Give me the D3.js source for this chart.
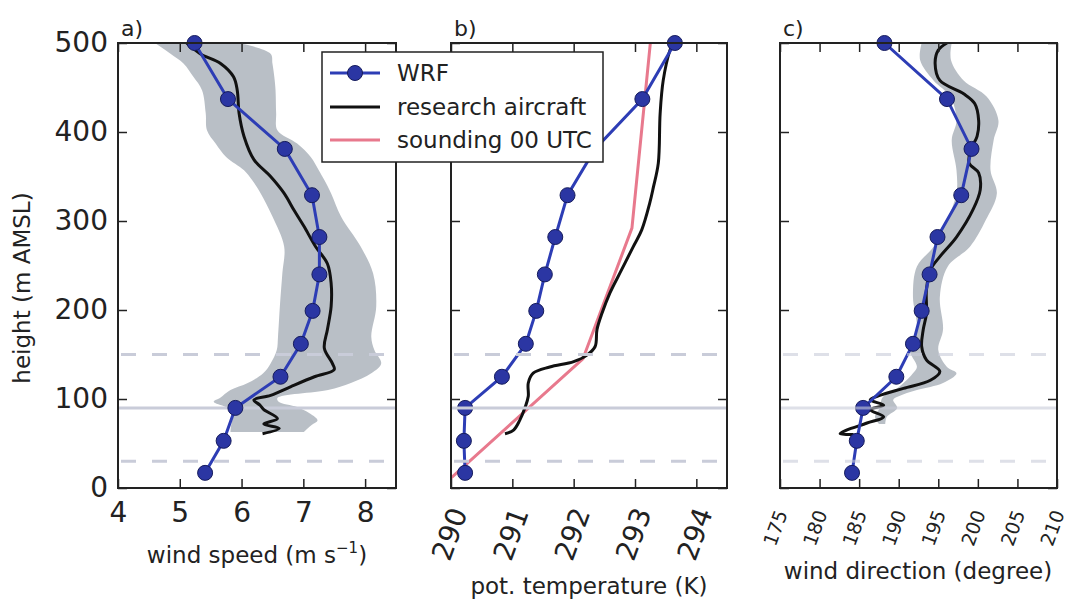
<!DOCTYPE html>
<html>
<head>
<meta charset="utf-8">
<script src="https://cdn.jsdelivr.net/npm/d3@7"></script>
<style>
  body { margin: 0; background: #fff; }
  text { font-family: "DejaVu Sans", sans-serif; fill: #222; }
</style>
</head>
<body>
<div id="chart"></div>
<script>
// WRF model levels (m AMSL) and values
var wrfHeight = [500, 437, 381, 329, 282, 240, 199, 162, 125, 90, 53, 17];
var wrfSpeed = [5.24, 5.78, 6.70, 7.14, 7.26, 7.26, 7.15, 6.96, 6.63, 5.90, 5.71, 5.41];
var wrfTheta = [293.65, 293.12, 292.35, 291.90, 291.70, 291.53, 291.39, 291.22, 290.83, 290.23, 290.21, 290.23];
var wrfDir = [188.2, 196.1, 199.2, 197.9, 194.9, 193.9, 192.9, 191.8, 189.7, 185.5, 184.7, 184.1];

// research aircraft, wind speed
var acSpeedHeight = [500, 488, 477, 462, 447, 421, 395, 369, 350, 331, 312, 294, 271, 252, 230, 204, 178, 157, 140, 133, 125, 114, 104, 99, 93, 88, 78, 72, 67, 61];
var acSpeed = [5.11, 5.33, 5.66, 5.87, 5.93, 5.96, 6.04, 6.20, 6.47, 6.69, 6.85, 7.01, 7.20, 7.39, 7.45, 7.45, 7.39, 7.34, 7.47, 7.50, 7.18, 6.80, 6.47, 6.20, 6.30, 6.36, 6.58, 6.36, 6.61, 6.34];

// research aircraft spread, wind speed
var bandSpeedHeight = [500, 488, 477, 462, 447, 421, 402, 387, 372, 357, 346, 331, 305, 271, 241, 204, 170, 155, 140, 129, 118, 110, 101, 97, 91, 84, 76, 70, 63];
var bandSpeedLow = [4.60, 4.85, 5.06, 5.22, 5.36, 5.42, 5.44, 5.58, 5.75, 6.04, 6.17, 6.31, 6.50, 6.69, 6.66, 6.62, 6.59, 6.57, 6.47, 6.35, 6.10, 5.82, 5.65, 5.55, 5.74, 5.87, 5.85, 5.83, 5.82];
var bandSpeedHigh = [5.96, 6.47, 6.50, 6.53, 6.55, 6.56, 6.58, 6.90, 7.12, 7.25, 7.34, 7.45, 7.61, 7.93, 8.13, 8.18, 8.10, 8.15, 8.26, 8.10, 7.77, 7.40, 6.58, 6.60, 6.90, 7.10, 7.23, 7.12, 7.01];

// research aircraft, potential temperature
var acThetaHeight = [500, 492, 458, 421, 365, 338, 320, 290, 271, 245, 219, 196, 178, 159, 149, 142, 136, 129, 118, 103, 91, 76, 65, 61];
var acTheta = [293.62, 293.57, 293.46, 293.41, 293.38, 293.30, 293.24, 293.11, 292.97, 292.78, 292.59, 292.46, 292.38, 292.35, 292.21, 292.00, 291.61, 291.34, 291.26, 291.26, 291.21, 291.12, 291.02, 290.88];

// sounding 00 UTC
var sondeHeight = [10, 145, 292, 500];
var sondeTheta = [289.98, 292.15, 292.95, 293.25];

// research aircraft, wind direction
var acDirHeight = [500, 492, 477, 458, 443, 432, 413, 395, 380, 365, 354, 335, 313, 282, 260, 245, 222, 196, 178, 159, 144, 131, 121, 112, 104, 99, 93, 88, 80, 73, 65, 61, 60];
var acDir = [196.1, 195.0, 194.6, 195.2, 198.2, 199.6, 200.1, 199.9, 199.1, 198.9, 200.1, 200.3, 199.4, 197.3, 195.2, 194.0, 193.5, 193.5, 193.1, 192.9, 193.5, 195.2, 194.0, 190.6, 187.6, 186.4, 188.1, 186.4, 188.1, 186.0, 183.4, 182.6, 184.3];

var bandDirHeight = [500, 481, 458, 440, 413, 391, 357, 331, 301, 271, 249, 215, 178, 155, 136, 129, 118, 110, 103, 99, 90, 80, 72];
var bandDirLow = [192.9, 192.7, 194.4, 196.5, 197.3, 196.7, 197.3, 197.3, 196.1, 194.4, 192.3, 191.8, 192.3, 191.4, 192.3, 191.8, 190.6, 189.5, 188.1, 187.8, 187.6, 187.0, 187.5];
var bandDirHigh = [196.7, 196.6, 198.2, 201.1, 202.6, 202.0, 201.6, 202.4, 201.0, 199.0, 196.2, 195.2, 195.6, 195.0, 196.1, 197.3, 195.6, 192.3, 190.0, 189.3, 189.8, 188.5, 188.3];

// reference heights
var solidHeight = 90;
var dashedHeights = [30, 150];

var svgWidth = 1067;
var svgHeight = 601;

var blue = "#2d3db5";
var pink = "#e8798d";
var shade = "#b9bfc6";

var svg = d3.select("#chart")
  .append("svg")
  .attr("width", svgWidth)
  .attr("height", svgHeight);

var yScale = d3.scaleLinear().domain([0, 500]).range([488, 43]);

// one panel: scales, band, lines, markers, frame, ticks
function drawPanel(opt) {
  var x = d3.scaleLinear().domain(opt.domain).range([0, opt.right - opt.left]);
  var w = opt.right - opt.left;
  var g = svg.append("g").attr("transform", `translate(${opt.left}, 0)`);

  g.append("clipPath").attr("id", "clip" + opt.id)
    .append("rect").attr("x", 0).attr("y", 43).attr("width", w).attr("height", 445);

  var body = g.append("g").attr("clip-path", `url(#clip${opt.id})`);

  if (opt.bandHeight) {
    var area = d3.area()
      .y(function(d, i) { return yScale(opt.bandHeight[i]); })
      .x0(function(d, i) { return x(opt.bandLow[i]); })
      .x1(function(d, i) { return x(opt.bandHigh[i]); })
      .curve(d3.curveCatmullRom);
    body.append("path").datum(opt.bandHeight)
      .attr("d", area).attr("fill", shade);
  }

  function refLines(op) {
    body.append("line")
      .attr("x1", 0).attr("x2", w)
      .attr("y1", yScale(solidHeight)).attr("y2", yScale(solidHeight))
      .attr("stroke", "#c9ccd9").attr("stroke-width", 3).attr("opacity", op);
    body.selectAll(".dash").data(dashedHeights).enter().append("line")
      .attr("x1", 0).attr("x2", w)
      .attr("y1", d => yScale(d)).attr("y2", d => yScale(d))
      .attr("stroke", "#c9ccd9").attr("stroke-width", 3)
      .attr("stroke-dasharray", "15,16").attr("stroke-dashoffset", -3)
      .attr("opacity", op);
  }
  if (!opt.linesOnTop) refLines(1);

  var line = d3.line().curve(d3.curveCatmullRom);

  if (opt.sondeHeight) {
    body.append("path")
      .datum(opt.sondeHeight.map((h, i) => [x(opt.sondeVal[i]), yScale(h)]))
      .attr("d", d3.line()).attr("fill", "none")
      .attr("stroke", pink).attr("stroke-width", 3);
  }

  body.append("path")
    .datum(opt.acHeight.map((h, i) => [x(opt.acVal[i]), yScale(h)]))
    .attr("d", line).attr("fill", "none")
    .attr("stroke", "#111").attr("stroke-width", 3);

  body.append("path")
    .datum(wrfHeight.map((h, i) => [x(opt.wrf[i]), yScale(h)]))
    .attr("d", d3.line()).attr("fill", "none")
    .attr("stroke", blue).attr("stroke-width", 3);

  g.selectAll(".wrf").data(wrfHeight).enter().append("circle")
    .attr("cx", (d, i) => x(opt.wrf[i]))
    .attr("cy", d => yScale(d))
    .attr("r", 7.5)
    .attr("fill", "#2b36a3")
    .attr("stroke", "#151b5c")
    .attr("stroke-width", 1);

  if (opt.linesOnTop) {
    body = g.append("g").attr("clip-path", `url(#clip${opt.id})`);
    refLines(opt.lineOpacity);
  }

  // inward ticks on all four sides
  var bottom = g.append("g")
    .attr("transform", "translate(0, 488)")
    .call(d3.axisBottom(x).tickValues(opt.ticks).tickFormat(d3.format("d"))
      .tickSizeInner(-9).tickSizeOuter(0).tickPadding(14));
  g.append("g")
    .attr("transform", "translate(0, 43)")
    .call(d3.axisTop(x).tickValues(opt.ticks).tickSizeInner(-9).tickSizeOuter(0).tickFormat(""));
  var left = g.append("g")
    .call(d3.axisLeft(yScale).tickValues([0, 100, 200, 300, 400, 500]).tickSizeInner(-9).tickSizeOuter(0).tickPadding(10));
  g.append("g")
    .attr("transform", `translate(${w}, 0)`)
    .call(d3.axisRight(yScale).tickValues([0, 100, 200, 300, 400, 500]).tickSizeInner(-9).tickSizeOuter(0).tickFormat(""));

  g.selectAll(".domain").remove();
  g.selectAll(".tick line").attr("stroke", "#222").attr("stroke-width", 1.5);

  bottom.selectAll("text")
    .attr("font-size", opt.tickFont + "px")
    .attr("font-family", "DejaVu Sans")
    .attr("fill", "#222");

  if (opt.rotate) {
    bottom.selectAll("text")
      .attr("y", 0).attr("dy", "0.35em")
      .attr("text-anchor", "middle")
      .attr("transform", `translate(${opt.rotateX || 0}, ${opt.rotateY}) rotate(-70)`);
  }

  if (opt.yLabels) {
    left.selectAll("text")
      .attr("font-size", "28px")
      .attr("font-family", "DejaVu Sans")
      .attr("fill", "#222");
  } else {
    left.selectAll("text").remove();
  }

  g.append("rect")
    .attr("x", 0).attr("y", 43).attr("width", w).attr("height", 445)
    .attr("fill", "none").attr("stroke", "#222").attr("stroke-width", 2);

  g.append("text")
    .attr("x", 3).attr("y", 36)
    .attr("font-size", "22px")
    .text(opt.letter);

  return g;
}

drawPanel({
  id: "a", letter: "a)", left: 118, right: 396, domain: [4, 8.5], ticks: [4, 5, 6, 7, 8],
  tickFont: 28, yLabels: true, wrf: wrfSpeed,
  acHeight: acSpeedHeight, acVal: acSpeed,
  bandHeight: bandSpeedHeight, bandLow: bandSpeedLow, bandHigh: bandSpeedHigh
});

drawPanel({
  id: "b", letter: "b)", left: 451, right: 727, domain: [290, 294.5], ticks: [290, 291, 292, 293, 294],
  tickFont: 28, rotate: true, rotateX: -2, rotateY: 46, wrf: wrfTheta,
  acHeight: acThetaHeight, acVal: acTheta,
  sondeHeight: sondeHeight, sondeVal: sondeTheta,
  linesOnTop: true, lineOpacity: 1
});

drawPanel({
  id: "c", letter: "c)", left: 780, right: 1057, domain: [175, 210], ticks: [175, 180, 185, 190, 195, 200, 205, 210],
  tickFont: 19, rotate: true, rotateX: -5, rotateY: 40, wrf: wrfDir,
  acHeight: acDirHeight, acVal: acDir,
  bandHeight: bandDirHeight, bandLow: bandDirLow, bandHigh: bandDirHigh,
  linesOnTop: true, lineOpacity: 0.6
});

// axis titles
var speedLabel = svg.append("text")
  .attr("x", 257).attr("y", 563)
  .attr("text-anchor", "middle")
  .attr("font-size", "23px");
speedLabel.append("tspan").text("wind speed (m s");
speedLabel.append("tspan").attr("dy", -10).attr("font-size", "15px").text("\u22121");
speedLabel.append("tspan").attr("dy", 10).text(")");

svg.append("text")
  .attr("x", 589).attr("y", 594)
  .attr("text-anchor", "middle")
  .attr("font-size", "23px")
  .text("pot. temperature (K)");

svg.append("text")
  .attr("x", 918).attr("y", 579)
  .attr("text-anchor", "middle")
  .attr("font-size", "23px")
  .text("wind direction (degree)");

svg.append("text")
  .attr("transform", "translate(30, 288) rotate(-90)")
  .attr("text-anchor", "middle")
  .attr("font-size", "23px")
  .text("height (m AMSL)");

// legend
var legend = svg.append("g");
legend.append("rect")
  .attr("x", 322).attr("y", 52).attr("width", 281).attr("height", 110)
  .attr("fill", "#fff").attr("stroke", "#222").attr("stroke-width", 1.5);

var legendItems = ["WRF", "research aircraft", "sounding 00 UTC"];
var legendColors = [blue, "#111", pink];
var legendY = [73, 107, 140];

legend.selectAll(".item-line").data(legendItems).enter().append("line")
  .attr("x1", 330).attr("x2", 380)
  .attr("y1", (d, i) => legendY[i]).attr("y2", (d, i) => legendY[i])
  .attr("stroke", (d, i) => legendColors[i]).attr("stroke-width", 3);

legend.append("circle")
  .attr("cx", 355).attr("cy", legendY[0]).attr("r", 7.5)
  .attr("fill", "#2b36a3").attr("stroke", "#151b5c").attr("stroke-width", 1);

legend.selectAll(".item-text").data(legendItems).enter().append("text")
  .attr("x", 397).attr("y", (d, i) => legendY[i])
  .attr("dy", "0.35em")
  .attr("font-size", "23px")
  .text(d => d);
</script>
</body>
</html>
